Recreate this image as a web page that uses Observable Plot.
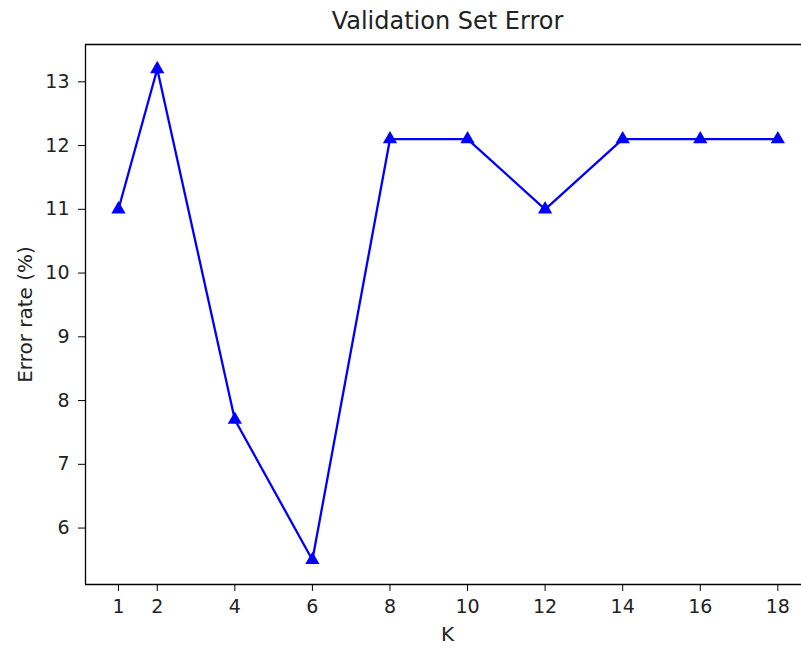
<!DOCTYPE html>
<html>
<head>
<meta charset="utf-8">
<script src="https://cdn.jsdelivr.net/npm/d3@7"></script>
<script src="https://cdn.jsdelivr.net/npm/@observablehq/plot@0.6"></script>
<style>
  html, body { margin: 0; padding: 0; background: #fff; }
  svg { display: block; }
</style>
</head>
<body>
<div id="chart"></div>
<script>
const kValues = [1, 2, 4, 6, 8, 10, 12, 14, 16, 18];
const errorRates = [11.0, 13.2, 7.7, 5.5, 12.1, 12.1, 11.0, 12.1, 12.1, 12.1];
const yTicks = [6, 7, 8, 9, 10, 11, 12, 13];
const titleText = "Validation Set Error";
const xLabel = "K";
const yLabel = "Error rate (%)";

const data = kValues.map((k, i) => ({k, err: errorRates[i]}));
const xDomain = [0.15, 18.61];
const yDomain = [5.115, 13.585];
const font = "DejaVu Sans, sans-serif";

const chart = Plot.plot({
  width: 801,
  height: 648,
  marginTop: 44,
  marginLeft: 85,
  marginRight: 0,
  marginBottom: 64,
  style: {fontFamily: font, background: "#fff", color: "#000"},
  x: {type: "linear", domain: xDomain},
  y: {type: "linear", domain: yDomain},
  marks: [
    Plot.axisX({ticks: kValues, tickSize: 7, tickPadding: 8, fontSize: 19, label: null, stroke: "#000", fill: "#222"}),
    Plot.axisY({ticks: yTicks, tickSize: 7, tickPadding: 9, fontSize: 19, label: null, stroke: "#000", fill: "#222"}),
    Plot.ruleX([xDomain[0]], {stroke: "#000", strokeWidth: 1.3}),
    Plot.ruleY([yDomain[0], yDomain[1]], {stroke: "#000", strokeWidth: 1.3}),
    Plot.line(data, {x: "k", y: "err", stroke: "blue", strokeWidth: 2.3}),
    Plot.dot(data, {x: "k", y: "err", symbol: "triangle", r: 5.3, fill: "blue", stroke: "none"}),
    Plot.text([titleText], {frameAnchor: "top", lineAnchor: "middle", dy: -23, dx: 4, fontSize: 24, fill: "#222"}),
    Plot.text([xLabel], {frameAnchor: "bottom", lineAnchor: "middle", dy: 50, dx: 4, fontSize: 20, fill: "#222"}),
    Plot.text([yLabel], {frameAnchor: "left", lineAnchor: "middle", textAnchor: "middle", dx: -60, rotate: -90, fontSize: 20, fill: "#222"})
  ]
});
document.getElementById("chart").appendChild(chart);
</script>
</body>
</html>
